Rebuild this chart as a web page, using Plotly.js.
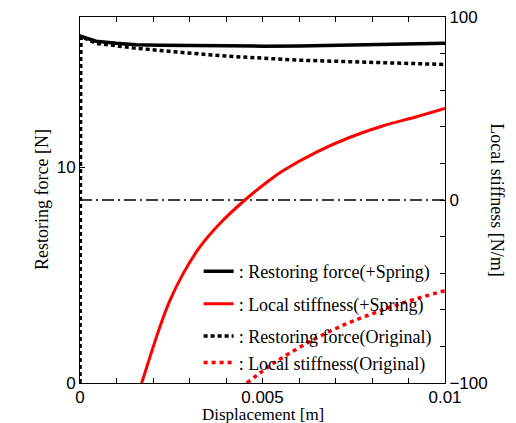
<!DOCTYPE html>
<html>
<head>
<meta charset="utf-8">
<script src="https://cdn.plot.ly/plotly-3.0.1.min.js"></script>
<style>
html,body{margin:0;padding:0;background:#fff;}
#chart{width:516px;height:423px;}
</style>
</head>
<body>
<div id="chart"></div>
<script>
// Restoring force (+Spring) [N]
const dispForceSpring = [0.00003, 0.00044, 0.00099, 0.00153, 0.0022, 0.003, 0.004, 0.005, 0.006, 0.007, 0.008, 0.009, 0.01];
const forceSpring     = [16.05, 15.83, 15.73, 15.67, 15.64, 15.62, 15.6, 15.6, 15.61, 15.63, 15.66, 15.69, 15.73];
// Restoring force (Original) [N]
const dispForceOrig = [0, 0, 0.00002, 0.00001, 0.00002, 0.00003, 0.00044, 0.00099, 0.00144, 0.00256, 0.004, 0.006, 0.00785, 0.01];
const forceOrig     = [0, 12.7, 13.5, 14.2, 15.0, 16.05, 15.73, 15.62, 15.52, 15.34, 15.14, 14.95, 14.85, 14.75];
// Local stiffness (+Spring) [N/m]
const dispStiffSpring = [0.00169, 0.00192, 0.00219, 0.00247, 0.00283, 0.00329, 0.00384, 0.00452, 0.0052, 0.00557, 0.00648, 0.0074, 0.00831, 0.00922, 0.01];
const stiffSpring     = [-100, -85.6, -69.2, -54.6, -40.1, -25.5, -12.7, 0, 10.9, 16.1, 26.2, 34.3, 40.6, 45.5, 50];
// Local stiffness (Original) [N/m]
const dispStiffOrig = [0.00457, 0.0053, 0.00621, 0.00712, 0.00804, 0.00895, 0.01];
const stiffOrig     = [-100, -89.3, -78.3, -69.2, -61.9, -55.6, -49.5];
// Zero stiffness reference line
const zeroLineX = [0, 0.01];
const zeroLineY = [0, 0];

const names = [': Restoring force(+Spring)', ': Local stiffness(+Spring)', ': Restoring force(Original)', ': Local stiffness(Original)'];
const xTickVals = [0, 0.005, 0.01];
const xTickText = ['0', '0.005', '0.01'];
const yTickVals = [0, 10];
const y2TickVals = [-100, 0, 100];

const serif = '"Liberation Serif", "Times New Roman", serif';
const sans = '"Liberation Sans", Arial, sans-serif';

const traces = [
  {x: zeroLineX, y: zeroLineY, yaxis: 'y2', mode: 'lines', showlegend: false, hoverinfo: 'skip',
   line: {color: '#000', width: 1.3, dash: '12px,4px,2px,4px'}},
  {x: dispForceSpring, y: forceSpring, mode: 'lines', name: names[0], legendgroup: 'a',
   line: {color: '#000', width: 3.5}},
  {x: dispStiffSpring, y: stiffSpring, yaxis: 'y2', mode: 'lines', name: names[1], legendgroup: 'b',
   line: {color: '#ff0000', width: 3, shape: 'spline', smoothing: 1}},
  {x: dispForceOrig, y: forceOrig, mode: 'lines', name: names[2], legendgroup: 'c',
   line: {color: '#000', width: 3.5, dash: '4px,3px'}},
  {x: dispStiffOrig, y: stiffOrig, yaxis: 'y2', mode: 'lines', name: names[3], legendgroup: 'c',
   line: {color: '#ff0000', width: 3.5, dash: '4px,4px', shape: 'spline', smoothing: 1}}
];

const axisCommon = {
  ticks: 'inside', ticklen: 5, tickcolor: '#000', showgrid: false, zeroline: false,
  showline: true, linecolor: '#000', linewidth: 1, ticklabelstandoff: 0,
  tickfont: {family: sans, size: 17, color: '#000'}
};

const layout = {
  width: 516, height: 423,
  margin: {l: 80, r: 71, t: 17, b: 40, pad: 0},
  paper_bgcolor: '#fff', plot_bgcolor: '#fff',
  font: {family: sans, size: 17, color: '#000'},
  xaxis: Object.assign({}, axisCommon, {
    range: [0, 0.01], tickvals: xTickVals, ticktext: xTickText, mirror: 'ticks',
    ticklabelstandoff: -1,
    minor: {dtick: 0.001, ticks: 'inside', ticklen: 5, tickcolor: '#000', showgrid: false}
  }),
  yaxis: Object.assign({}, axisCommon, {
    range: [0, 16.95], tickvals: yTickVals
  }),
  yaxis2: Object.assign({}, axisCommon, {
    overlaying: 'y', side: 'right', range: [-100, 100], tickvals: y2TickVals,
    minor: {dtick: 20, ticks: 'inside', ticklen: 5, tickcolor: '#000', showgrid: false}
  }),
  legend: {
    x: 0.325, y: 0.355, xanchor: 'left', yanchor: 'top',
    bgcolor: 'rgba(0,0,0,0)', borderwidth: 0,
    traceorder: 'grouped', tracegroupgap: 6,
    font: {family: serif, size: 18, color: '#000'}
  },
  annotations: [
    {text: 'Restoring force [N]', xref: 'paper', yref: 'paper', x: -0.104, y: 0.5,
     xanchor: 'center', yanchor: 'middle',
     textangle: -90, showarrow: false, font: {family: serif, size: 18, color: '#000'}},
    {text: 'Local stiffness [N/m]', xref: 'paper', yref: 'paper', x: 1.142, y: 0.5,
     xanchor: 'center', yanchor: 'middle',
     textangle: 90, showarrow: false, font: {family: serif, size: 18, color: '#000'}},
    {text: 'Displacement [m]', xref: 'paper', yref: 'paper', x: 0.5, y: -0.0847,
     xanchor: 'center', yanchor: 'middle',
     showarrow: false, font: {family: serif, size: 17, color: '#000'}}
  ]
};

Plotly.newPlot('chart', traces, layout, {displayModeBar: false, staticPlot: true});
</script>
</body>
</html>
